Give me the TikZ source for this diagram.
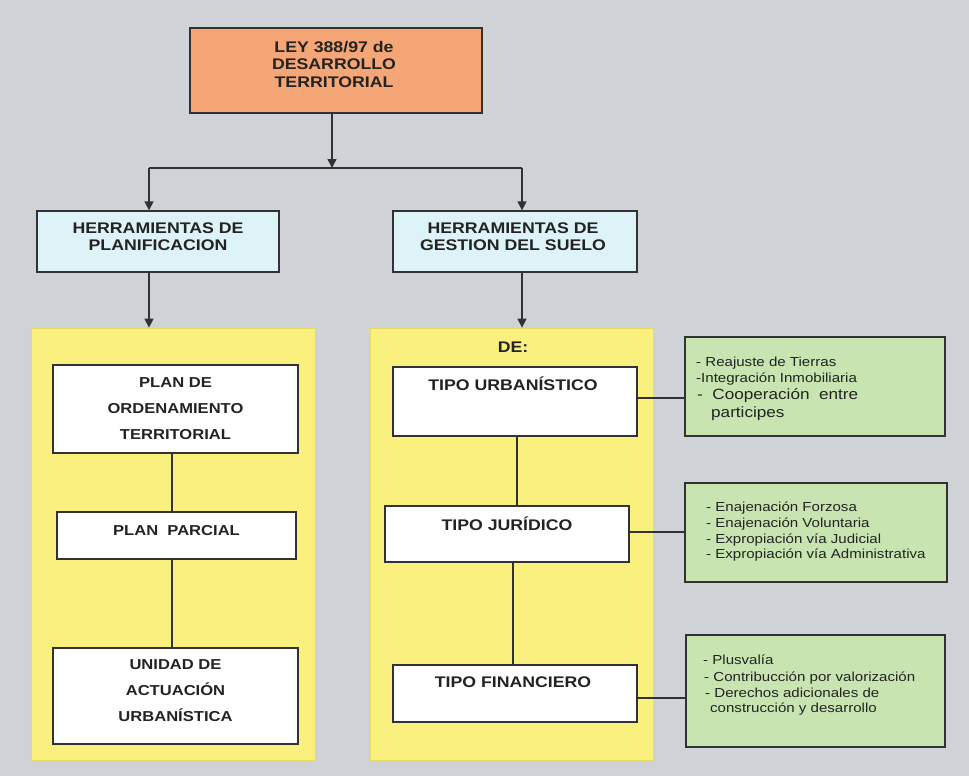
\documentclass[tikz,border=0pt]{standalone}
\usepackage{fontspec}
\setmainfont{Liberation Sans}[FakeStretch=1.15]
\usetikzlibrary{arrows.meta}
\definecolor{bg}{RGB}{207,210,214}
\definecolor{orangefill}{RGB}{244,166,118}
\definecolor{bluefill}{RGB}{222,243,247}
\definecolor{yelfill}{RGB}{250,240,125}
\definecolor{yeledge}{RGB}{232,218,92}
\definecolor{greenfill}{RGB}{200,228,176}
\definecolor{txt}{RGB}{35,35,35}
\definecolor{bord}{RGB}{50,50,50}
\tikzset{
  hd/.style={font=\bfseries\fontsize{15.4}{17.5}\selectfont, text=txt, align=center, inner sep=0pt},
  hdwide/.style={font=\bfseries\fontsize{14.4}{26}\selectfont, text=txt, align=center, inner sep=0pt},
  gt/.style={font=\fontsize{13.1}{15}\selectfont, text=txt, anchor=base west, inner sep=0pt},
  gtl/.style={font=\fontsize{14.9}{17}\selectfont, text=txt, anchor=base west, inner sep=0pt},
  boxbase/.style={draw=bord, line width=1.3pt, inner sep=0pt},
  obox/.style={boxbase, fill=orangefill},
  bbox/.style={boxbase, fill=bluefill},
  wbox/.style={boxbase, fill=white},
  gbox/.style={boxbase, fill=greenfill},
  ypanel/.style={draw=yeledge, line width=0.8pt, fill=yelfill, inner sep=0pt},
  conn/.style={draw=bord, line width=1.4pt},
  arr/.style={conn, -{Triangle[width=9pt,length=9pt]}}
}
\begin{document}
\begin{tikzpicture}[x=1pt,y=-1pt]
\fill[bg] (0,0) rectangle (969,776);
\useasboundingbox (0,0) rectangle (969,776);

% top box
\node[obox, minimum width=292pt, minimum height=85pt] (ley) at (336,70.5) {};
\node[hd] (leyt) at ([xshift=-2pt,yshift=6.5pt]ley.center) {LEY 388/97 de\\DESARROLLO\\TERRITORIAL};

% second level
\node[bbox, minimum width=242pt, minimum height=61pt] (plan) at (158,241.5) {};
\node[hd] (plant) at ([yshift=5pt]plan.center) {HERRAMIENTAS DE\\PLANIFICACION};
\node[bbox, minimum width=244pt, minimum height=61pt] (gest) at (515,241.5) {};
\node[hd] (gestt) at ([xshift=-2pt,yshift=5pt]gest.center) {HERRAMIENTAS DE\\GESTION DEL SUELO};

% yellow panels
\node[ypanel, minimum width=284pt, minimum height=432pt] (ylw1) at (173,544) {};
\node[ypanel, minimum width=283pt, minimum height=432pt] (ylw2) at (511.5,544) {};

% connectors top
\coordinate (j) at (332,168);
\coordinate (jl) at (149,168);
\coordinate (jr) at (522,168);
\draw[arr] (ley.south -| j) -- (j);
\draw[conn] (jl) -- (jr);
\draw[arr] (jl) -- (jl |- plan.north);
\draw[arr] (jr) -- (jr |- gest.north);
\draw[arr] (jl |- plan.south) -- (jl |- ylw1.north);
\draw[arr] (jr |- gest.south) -- (jr |- ylw2.north);

% left column
\node[wbox, minimum width=245pt, minimum height=88pt] (pot) at (175.5,409) {};
\node[hdwide] (pott) at (pot.center) {PLAN DE\\ORDENAMIENTO\\TERRITORIAL};
\node[wbox, minimum width=239pt, minimum height=47pt] (pp) at (176.5,535.5) {};
\node[hdwide] (ppt) at ([yshift=5pt]pp.center) {PLAN\ \ PARCIAL};
\node[wbox, minimum width=245pt, minimum height=96pt] (uau) at (175.5,696) {};
\node[hdwide] (uaut) at ([yshift=5pt]uau.center) {UNIDAD DE\\ACTUACIÓN\\URBANÍSTICA};
\draw[conn] ([xshift=-3.5pt]pot.south) -- ([xshift=-3.5pt]pot.south |- pp.north);
\draw[conn] ([xshift=-4.5pt]pp.south) -- ([xshift=-4.5pt]pp.south |- uau.north);

% right column
\node[hd] (de) at (513,347) {DE:};
\node[wbox, minimum width=244pt, minimum height=69pt] (tu) at (515,401.5) {};
\node[hd, anchor=north] (tut) at ([xshift=-2pt,yshift=-10.5pt]tu.north) {TIPO URBANÍSTICO};
\node[wbox, minimum width=244pt, minimum height=56pt] (tj) at (507,534) {};
\node[hd, anchor=north] (tjt) at ([yshift=-11pt]tj.north) {TIPO JURÍDICO};
\node[wbox, minimum width=244pt, minimum height=57pt] (tf) at (515,693.5) {};
\node[hd, anchor=north] (tft) at ([xshift=-2pt,yshift=-12pt]tf.north) {TIPO FINANCIERO};
\draw[conn] ([xshift=2pt]tu.south) -- ([xshift=2pt]tu.south |- tj.north);
\draw[conn] ([xshift=6pt]tj.south) -- ([xshift=6pt]tj.south |- tf.north);

% green boxes
\node[gbox, minimum width=260pt, minimum height=99pt] (g1) at (815,386.5) {};
\node[gbox, minimum width=262pt, minimum height=99pt] (g2) at (816,532.5) {};
\node[gbox, minimum width=259pt, minimum height=112pt] (g3) at (815.5,691) {};
\draw[conn] ([yshift=3.5pt]tu.east) -- ([yshift=3.5pt]tu.east -| g1.west);
\draw[conn] ([yshift=2pt]tj.east) -- ([yshift=2pt]tj.east -| g2.west);
\draw[conn] ([yshift=-4.5pt]tf.east) -- ([yshift=-4.5pt]tf.east -| g3.west);

\node[gt] (g1a) at (696,366) {- Reajuste de Tierras};
\node[gt] (g1b) at (696,382) {-Integración Inmobiliaria};
\node[gtl] (g1c) at (697,399.5) {-\ \ Cooperación\ \ entre};
\node[gtl] (g1d) at (711,417) {participes};

\node[gt] (g2a) at (706,511.5) {- Enajenación Forzosa};
\node[gt] (g2b) at (706,527.5) {- Enajenación Voluntaria};
\node[gt] (g2c) at (706,543) {- Expropiación vía Judicial};
\node[gt] (g2d) at (706,558.5) {- Expropiación vía Administrativa};

\node[gt] (g3a) at (703,664.5) {- Plusvalía};
\node[gt] (g3b) at (704,681) {- Contribucción por valorización};
\node[gt] (g3c) at (705,697) {- Derechos adicionales de};
\node[gt] (g3d) at (710,712) {construcción y desarrollo};
\end{tikzpicture}
\end{document}
